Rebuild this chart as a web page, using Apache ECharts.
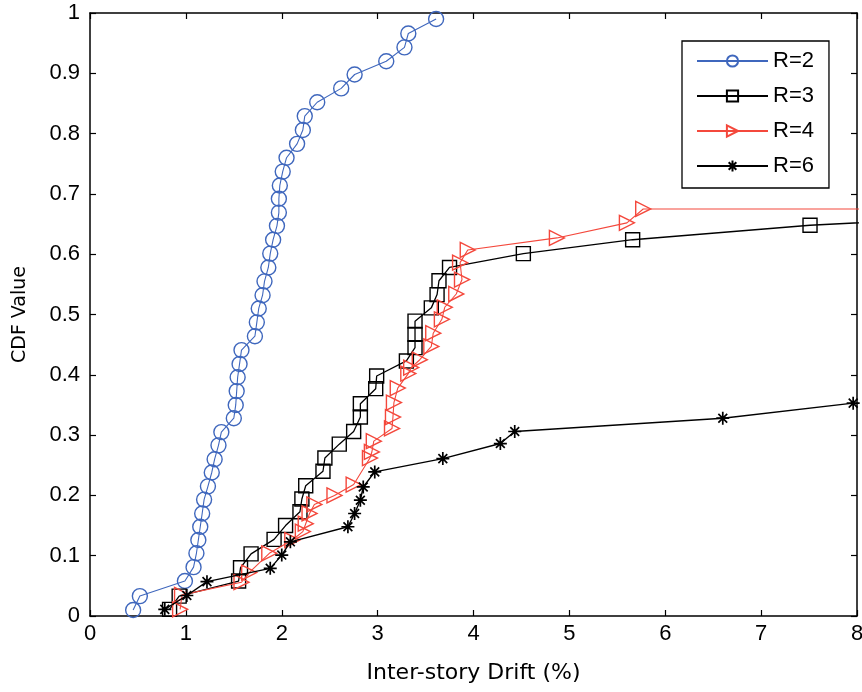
<!DOCTYPE html>
<html>
<head>
<meta charset="utf-8">
<script src="https://cdn.jsdelivr.net/npm/echarts@6/dist/echarts.min.js"></script>
<style>
html,body{margin:0;padding:0;background:#fff;}
#chart{width:862px;height:692px;}
</style>
</head>
<body>
<div id="chart"></div>
<script>
// ---- data (x = inter-story drift %, y = CDF value) ----
const seriesNames = ['R=2', 'R=3', 'R=4', 'R=6'];
const xTicks = [0, 1, 2, 3, 4, 5, 6, 7, 8];
const yTicks = [0, 0.1, 0.2, 0.3, 0.4, 0.5, 0.6, 0.7, 0.8, 0.9, 1];

const r2 = [[0.45,0.010],[0.52,0.033],[0.99,0.058],[1.08,0.081],[1.11,0.104],[1.13,0.126],[1.15,0.148],
  [1.17,0.170],[1.19,0.193],[1.23,0.215],[1.27,0.238],[1.30,0.260],[1.34,0.283],[1.37,0.305],
  [1.50,0.328],[1.52,0.350],[1.53,0.373],[1.54,0.396],[1.56,0.418],[1.58,0.441],[1.72,0.464],
  [1.74,0.487],[1.76,0.510],[1.80,0.532],[1.82,0.555],[1.86,0.578],[1.88,0.601],[1.91,0.624],
  [1.95,0.647],[1.97,0.669],[1.97,0.692],[1.98,0.714],[2.01,0.737],[2.05,0.760],[2.16,0.783],
  [2.22,0.806],[2.24,0.829],[2.37,0.852],[2.62,0.875],[2.76,0.898],[3.09,0.920],[3.28,0.943],
  [3.32,0.966],[3.61,0.990]];

const r3 = [[0.83,0.011],[0.93,0.033],[1.55,0.058],[1.57,0.080],[1.68,0.103],[1.92,0.127],[2.04,0.150],
  [2.19,0.173],[2.21,0.194],[2.25,0.216],[2.43,0.240],[2.45,0.262],[2.60,0.285],[2.75,0.306],
  [2.82,0.330],[2.82,0.352],[2.98,0.377],[2.99,0.398],[3.30,0.423],[3.39,0.445],[3.39,0.467],
  [3.39,0.489],[3.56,0.511],[3.62,0.533],[3.64,0.556],[3.75,0.578],[4.52,0.601],[5.66,0.624],
  [7.51,0.648],[9.00,0.660]];

const r4 = [[0.94,0.011],[0.96,0.035],[1.58,0.056],[1.66,0.072],[1.87,0.104],[2.11,0.126],[2.22,0.140],
  [2.25,0.153],[2.29,0.170],[2.34,0.185],[2.55,0.200],[2.75,0.218],[2.92,0.262],[2.94,0.272],
  [2.96,0.290],[3.15,0.311],[3.16,0.330],[3.17,0.354],[3.21,0.378],[3.32,0.402],[3.35,0.412],
  [3.44,0.425],[3.56,0.447],[3.58,0.469],[3.67,0.492],[3.70,0.512],[3.82,0.534],[3.88,0.558],
  [3.86,0.586],[3.94,0.607],[4.87,0.627],[5.60,0.652],[5.77,0.675],[9.50,0.675]];

const r6 = [[0.78,0.011],[1.01,0.034],[1.22,0.057],[1.88,0.079],[2.00,0.101],[2.09,0.123],[2.69,0.148],
  [2.76,0.170],[2.82,0.192],[2.85,0.214],[2.97,0.239],[3.68,0.261],[4.28,0.286],[4.43,0.306],
  [6.60,0.328],[7.96,0.353]];

const xMax = 8;

// ---- styling ----
const BLUE = '#3f67bd';
const RED = '#f4483c';
const BLACK = '#000000';
const seriesData = [r2, r3, r4, r6];
const styles = [
  {color: BLUE, symbol: 'circle', size: 15, lw: 1.1, bw: 1.4},
  {color: BLACK, symbol: 'rect', size: 14, lw: 1.3, bw: 1.4},
  {color: RED, symbol: 'path://M0,0L10,5L0,10Z', size: 15, lw: 1.1, bw: 1.4},
  {color: BLACK, symbol: 'path://M5,0L5,10M0,5L10,5M1.6,1.6L8.4,8.4M8.4,1.6L1.6,8.4', size: 13, lw: 1.4, bw: 1.7}
];

function toData(arr) {
  return arr.map(p => p[0] > xMax ? {value: p, symbol: 'none'} : p);
}

const series = seriesNames.map((name, i) => ({
  name: name,
  type: 'line',
  data: toData(seriesData[i]),
  symbol: styles[i].symbol,
  symbolSize: styles[i].size,
  showAllSymbol: true,
  clip: true,
  lineStyle: {color: styles[i].color, width: styles[i].lw},
  itemStyle: {color: 'rgba(0,0,0,0)', borderColor: styles[i].color, borderWidth: styles[i].bw},
  emphasis: {disabled: true},
  animation: false,
  z: 2 + i
}));

const tickFont = {fontFamily: 'Liberation Sans', fontSize: 22, color: '#000'};

const chart = echarts.init(document.getElementById('chart'), null, {renderer: 'canvas'});
chart.setOption({
  backgroundColor: '#fff',
  animation: false,
  grid: {left: 90, right: 5, top: 13, bottom: 76, containLabel: false, outerBoundsMode: 'none'},
  legend: {
    data: seriesNames,
    orient: 'vertical',
    left: 682, top: 41,
    padding: [9, 15, 11, 14],
    itemWidth: 71, itemHeight: 14, itemGap: 13,
    borderColor: '#000', borderWidth: 1.3,
    backgroundColor: '#fff',
    textStyle: {fontFamily: 'Liberation Sans', fontSize: 22, color: '#000', lineHeight: 21},
    selectedMode: false
  },
  xAxis: [{
    type: 'value', min: xTicks[0], max: xTicks[xTicks.length - 1], interval: 1,
    name: 'Inter-story Drift (%)', nameLocation: 'middle', nameGap: 46,
    nameTextStyle: {fontFamily: 'DejaVu Sans', fontSize: 22, color: '#000'},
    axisLine: {show: true, onZero: false, lineStyle: {color: '#000', width: 1.5}},
    axisTick: {show: true, inside: true, length: 6, lineStyle: {color: '#000', width: 1.2}},
    axisLabel: Object.assign({margin: 7}, tickFont),
    splitLine: {show: false}
  }, {
    type: 'value', position: 'top', min: xTicks[0], max: xTicks[xTicks.length - 1], interval: 1,
    axisLine: {show: true, onZero: false, lineStyle: {color: '#000', width: 1.5}},
    axisTick: {show: true, inside: true, length: 6, lineStyle: {color: '#000', width: 1.2}},
    axisLabel: {show: false}, splitLine: {show: false}
  }],
  yAxis: [{
    type: 'value', min: yTicks[0], max: yTicks[yTicks.length - 1], interval: 0.1,
    name: 'CDF Value', nameLocation: 'middle', nameGap: 60, nameRotate: 90,
    nameTextStyle: {fontFamily: 'DejaVu Sans', fontSize: 19, color: '#000'},
    axisLine: {show: true, onZero: false, lineStyle: {color: '#000', width: 1.5}},
    axisTick: {show: true, inside: true, length: 6, lineStyle: {color: '#000', width: 1.2}},
    axisLabel: Object.assign({margin: 10}, tickFont),
    splitLine: {show: false}
  }, {
    type: 'value', position: 'right', min: yTicks[0], max: yTicks[yTicks.length - 1], interval: 0.1,
    axisLine: {show: true, onZero: false, lineStyle: {color: '#000', width: 1.5}},
    axisTick: {show: true, inside: true, length: 6, lineStyle: {color: '#000', width: 1.2}},
    axisLabel: {show: false}, splitLine: {show: false}
  }],
  series: series
});
</script>
</body>
</html>
